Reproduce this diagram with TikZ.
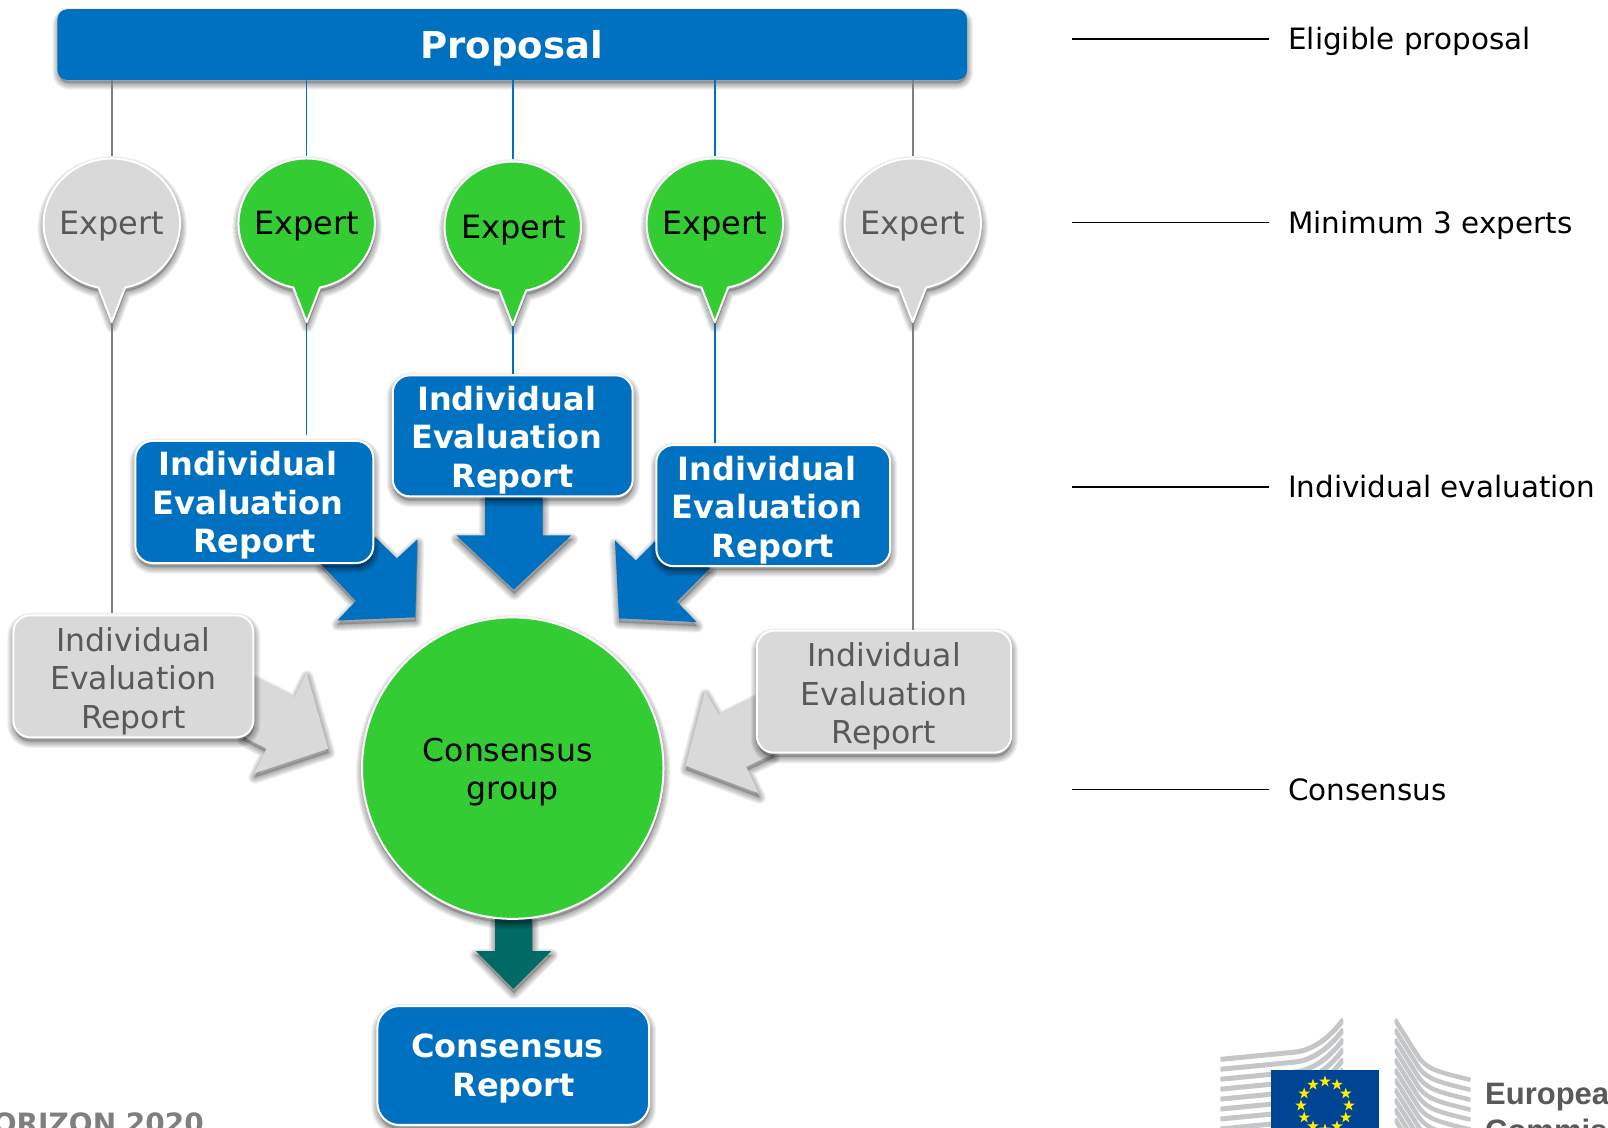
\documentclass[tikz,border=0pt]{standalone}
\usepackage{fontspec}
\setmainfont{DejaVu Sans}
\newfontfamily\logofont{Liberation Sans}
\definecolor{ecblue}{HTML}{0071C1}
\definecolor{ecgreen}{HTML}{33CC33}
\definecolor{ecgrey}{HTML}{D9D9D9}
\definecolor{ectext}{HTML}{595959}
\definecolor{ecline}{HTML}{7F7F7F}
\definecolor{ecteal}{HTML}{006A64}
\definecolor{ecflag}{HTML}{004494}
\definecolor{ecwing}{HTML}{C4C6C8}
\usetikzlibrary{shapes.geometric}
% soft drop shadow made of stacked translucent copies
\newcommand{\softshadow}[1]{%
  \foreach \w in {13,11,9,7,5,3,1}{\draw[black,opacity=.055,line width=\w pt,line join=round,fill=black,fill opacity=.03,shift={(0.5,4)}] #1;}}
\tikzset{
  bluelink/.style={ecblue,line width=1.6pt},
  greylink/.style={ecline,line width=1.6pt},
  rulelink/.style={black,line width=1.6pt},
  outline/.style={draw=white,line width=2pt,line join=round},
  boxtext/.style={font=\fontsize{31.5}{38.5}\selectfont,align=center,inner sep=0pt},
  bluetext/.style={boxtext,text=white,font=\fontsize{32}{38.5}\selectfont\bfseries},
  greytext/.style={boxtext,text=ectext},
  experttext/.style={font=\fontsize{32}{36}\selectfont,inner sep=0pt},
  sidetext/.style={font=\fontsize{29.4}{34}\selectfont,anchor=west,inner sep=0pt,text=black}
}
\newcommand{\pinshape}[2]{(#1-13,#2+62.3) arc[start angle=101.3,end angle=438.7,x radius=66.5,y radius=63.5] -- (#1,#2+96) -- cycle}
\begin{document}
\begin{tikzpicture}[x=1.0255pt,y=-1.0255pt]
\useasboundingbox (0,0) rectangle (1568,1099);
\clip (0,0) rectangle (1568,1099);

% Proposal bar
\softshadow{(57,10) [rounded corners=10pt] rectangle (942,77)}
\node[fill=ecblue,rounded corners=10pt,minimum width=887*1.0255pt,minimum height=69*1.0255pt,inner sep=0pt] (proposal) at (499.5,43.5) {};
\node[inner sep=0pt,text=white,font=\fontsize{37}{40}\selectfont\bfseries] (proposaltext) at (499,47) {Proposal};

% Expert pins
\foreach \nm/\x/\y/\fc/\tc/\tx in {e1/109/218/ecgrey/ectext/109,e2/299/218/ecgreen/black/299,e3/500/221/ecgreen/black/501,e4/697/218/ecgreen/black/697,e5/890/218/ecgrey/ectext/890}{
  \softshadow{\pinshape{\x}{\y}}
  \draw[outline,fill=\fc] \pinshape{\x}{\y};
  \node[experttext,text=\tc] (\nm) at (\tx,\y+3) {Expert};
  \coordinate (\nm t) at (\x,\y-66);
  \coordinate (\nm b) at (\x,\y+97);
}

% Links proposal -> expert
\draw[greylink] (proposal.south -| e1t) -- (e1t);
\draw[bluelink] (proposal.south -| e2t) -- (e2t);
\draw[bluelink] (proposal.south -| e3t) -- (e3t);
\draw[bluelink] (proposal.south -| e4t) -- (e4t);
\draw[greylink] (proposal.south -| e5t) -- (e5t);

% Arrows to consensus group
\softshadow{(313,550) -- (347,586) -- (329,605) -- (405,602) -- (407,526) -- (387,544.5) -- (366,524) -- cycle}
\fill[ecblue] (313,550) -- (347,586) -- (329,605) -- (405,602) -- (407,526) -- (387,544.5) -- (366,524) -- cycle;
\softshadow{(473,484) -- (473,522) -- (445,522) -- (501,575) -- (557,522) -- (529,522) -- (529,484) -- cycle}
\fill[ecblue] (473,484) -- (473,522) -- (445,522) -- (501,575) -- (557,522) -- (529,522) -- (529,484) -- cycle;
\softshadow{(692.4,554) -- (660,586.7) -- (679.3,606.6) -- (603.6,603) -- (599.7,527) -- (620,546.7) -- (638.7,528) -- cycle}
\fill[ecblue] (692.4,554) -- (660,586.7) -- (679.3,606.6) -- (603.6,603) -- (599.7,527) -- (620,546.7) -- (638.7,528) -- cycle;
\softshadow{(247,660) -- (287,680) -- (299,656) -- (320,730) -- (248,754) -- (260,730) -- (237,718) -- cycle}
\fill[ecgrey] (247,660) -- (287,680) -- (299,656) -- (320,730) -- (248,754) -- (260,730) -- (237,718) -- cycle;
\softshadow{(737,679) -- (701,697) -- (687.5,673.8) -- (668.6,746.6) -- (740,773.6) -- (727.5,747.6) -- (754,735) -- cycle}
\fill[ecgrey] (737,679) -- (701,697) -- (687.5,673.8) -- (668.6,746.6) -- (740,773.6) -- (727.5,747.6) -- (754,735) -- cycle;
\softshadow{(482.7,896) -- (482.7,927.4) -- (464,927.4) -- (500.6,964.4) -- (537.5,927.4) -- (519,927.4) -- (519,896) -- cycle}
\fill[ecteal] (482.7,896) -- (482.7,927.4) -- (464,927.4) -- (500.6,964.4) -- (537.5,927.4) -- (519,927.4) -- (519,896) -- cycle;

% Report boxes
\softshadow{(132,430) [rounded corners=17pt] rectangle (364,549)}
\draw[outline,fill=ecblue,rounded corners=17pt] (132,430) rectangle (364,549);
\node[bluetext] (r2) at (242,493) {Individual\\Evaluation\\\hspace*{12pt}Report};
\softshadow{(383,366) [rounded corners=17pt] rectangle (617,484)}
\draw[outline,fill=ecblue,rounded corners=17pt] (383,366) rectangle (617,484);
\node[bluetext] (r3) at (494,429) {Individual\\Evaluation\\\hspace*{12pt}Report};
\softshadow{(640,434) [rounded corners=17pt] rectangle (868,552)}
\draw[outline,fill=ecblue,rounded corners=17pt] (640,434) rectangle (868,552);
\node[bluetext] (r4) at (748,497) {Individual\\Evaluation\\\hspace*{12pt}Report};
\softshadow{(13,600) [rounded corners=17pt] rectangle (247,719)}
\draw[outline,fill=ecgrey,rounded corners=17pt] (13,600) rectangle (247,719);
\node[greytext] (r1) at (130,664) {Individual\\Evaluation\\Report};
\softshadow{(738,615) [rounded corners=17pt] rectangle (986,734)}
\draw[outline,fill=ecgrey,rounded corners=17pt] (738,615) rectangle (986,734);
\node[greytext] (r5) at (862,679) {Individual\\Evaluation\\Report};

% Links expert -> report
\coordinate (r1t) at (109,598); \coordinate (r2t) at (299,424); \coordinate (r3t) at (500,365);
\coordinate (r4t) at (697,432); \coordinate (r5t) at (890,614);
\draw[greylink] (e1b) -- (r1t);
\draw[bluelink] (e2b) -- (r2t);
\draw[bluelink] (e3b) -- (r3t);
\draw[bluelink] (e4b) -- (r4t);
\draw[greylink] (e5b) -- (r5t);

% Consensus group
\softshadow{(500,749) circle[radius=147]}
\draw[outline,fill=ecgreen] (500,749) circle[radius=147];
\node[boxtext,text=black] (group) at (495,753) {Consensus\\\hspace*{10pt}group};

% Consensus report
\softshadow{(368,981) [rounded corners=22pt] rectangle (633,1097)}
\draw[outline,fill=ecblue,rounded corners=22pt] (368,981) rectangle (633,1097);
\node[bluetext] (final) at (495,1042) {Consensus\\\hspace*{12pt}Report};

% Side labels
\foreach \nm/\y/\t in {s1/38/Eligible proposal,s2/217/Minimum 3 experts,s3/475/Individual evaluation,s4/770/Consensus}{
  \node[sidetext,anchor=base west] (\nm) at (1256,\y+10.5) {\t};
  \coordinate (\nm a) at (1045,\y);
  \coordinate (\nm b) at (1237,\y);
  \draw[rulelink] (\nm a) -- (\nm b);
}

% Horizon label
\node[anchor=base east,inner sep=0pt,text=ecline,font=\fontsize{28}{30}\selectfont\bfseries] (horizon) at (199,1105.5) {HORIZON 2020};

% Commission logo
\begin{scope}
  \clip (1190,985) rectangle (1310,1099);
  \foreach \d in {0,9.7,...,100}{
    \draw[ecwing,line width=5pt] (1190,1033+\d) -- (1262,1026+\d) .. controls (1282,1024+\d) and (1298,1010+\d) .. (1310,994+\d);
  }
\end{scope}
\begin{scope}
  \clip (1360,985) rectangle (1434,1099);
  \foreach \d in {0,9.7,...,100}{
    \draw[ecwing,line width=4.5pt] (1360,994+\d) -- (1384,1032+\d) .. controls (1392,1042+\d) and (1400,1045+\d) .. (1434,1053+\d);
  }
\end{scope}
\fill[ecflag] (1239,1043) rectangle (1345,1110);
\foreach \a in {0,30,...,330}{
  \node[star,star points=5,star point ratio=2.6,fill=yellow!95!orange,inner sep=0pt,minimum size=12pt] at ({1292+23.4*sin(\a)},{1078-23.4*cos(\a)}) {};
}
\node[anchor=base west,inner sep=0pt,text=ectext,font=\logofont\fontsize{31}{36}\selectfont\bfseries] (logo) at (1448,1077) {European};
\node[anchor=base west,inner sep=0pt,text=ectext,font=\logofont\fontsize{31}{36}\selectfont\bfseries] (logob) at (1448,1113) {Commission};
\end{tikzpicture}
\end{document}
